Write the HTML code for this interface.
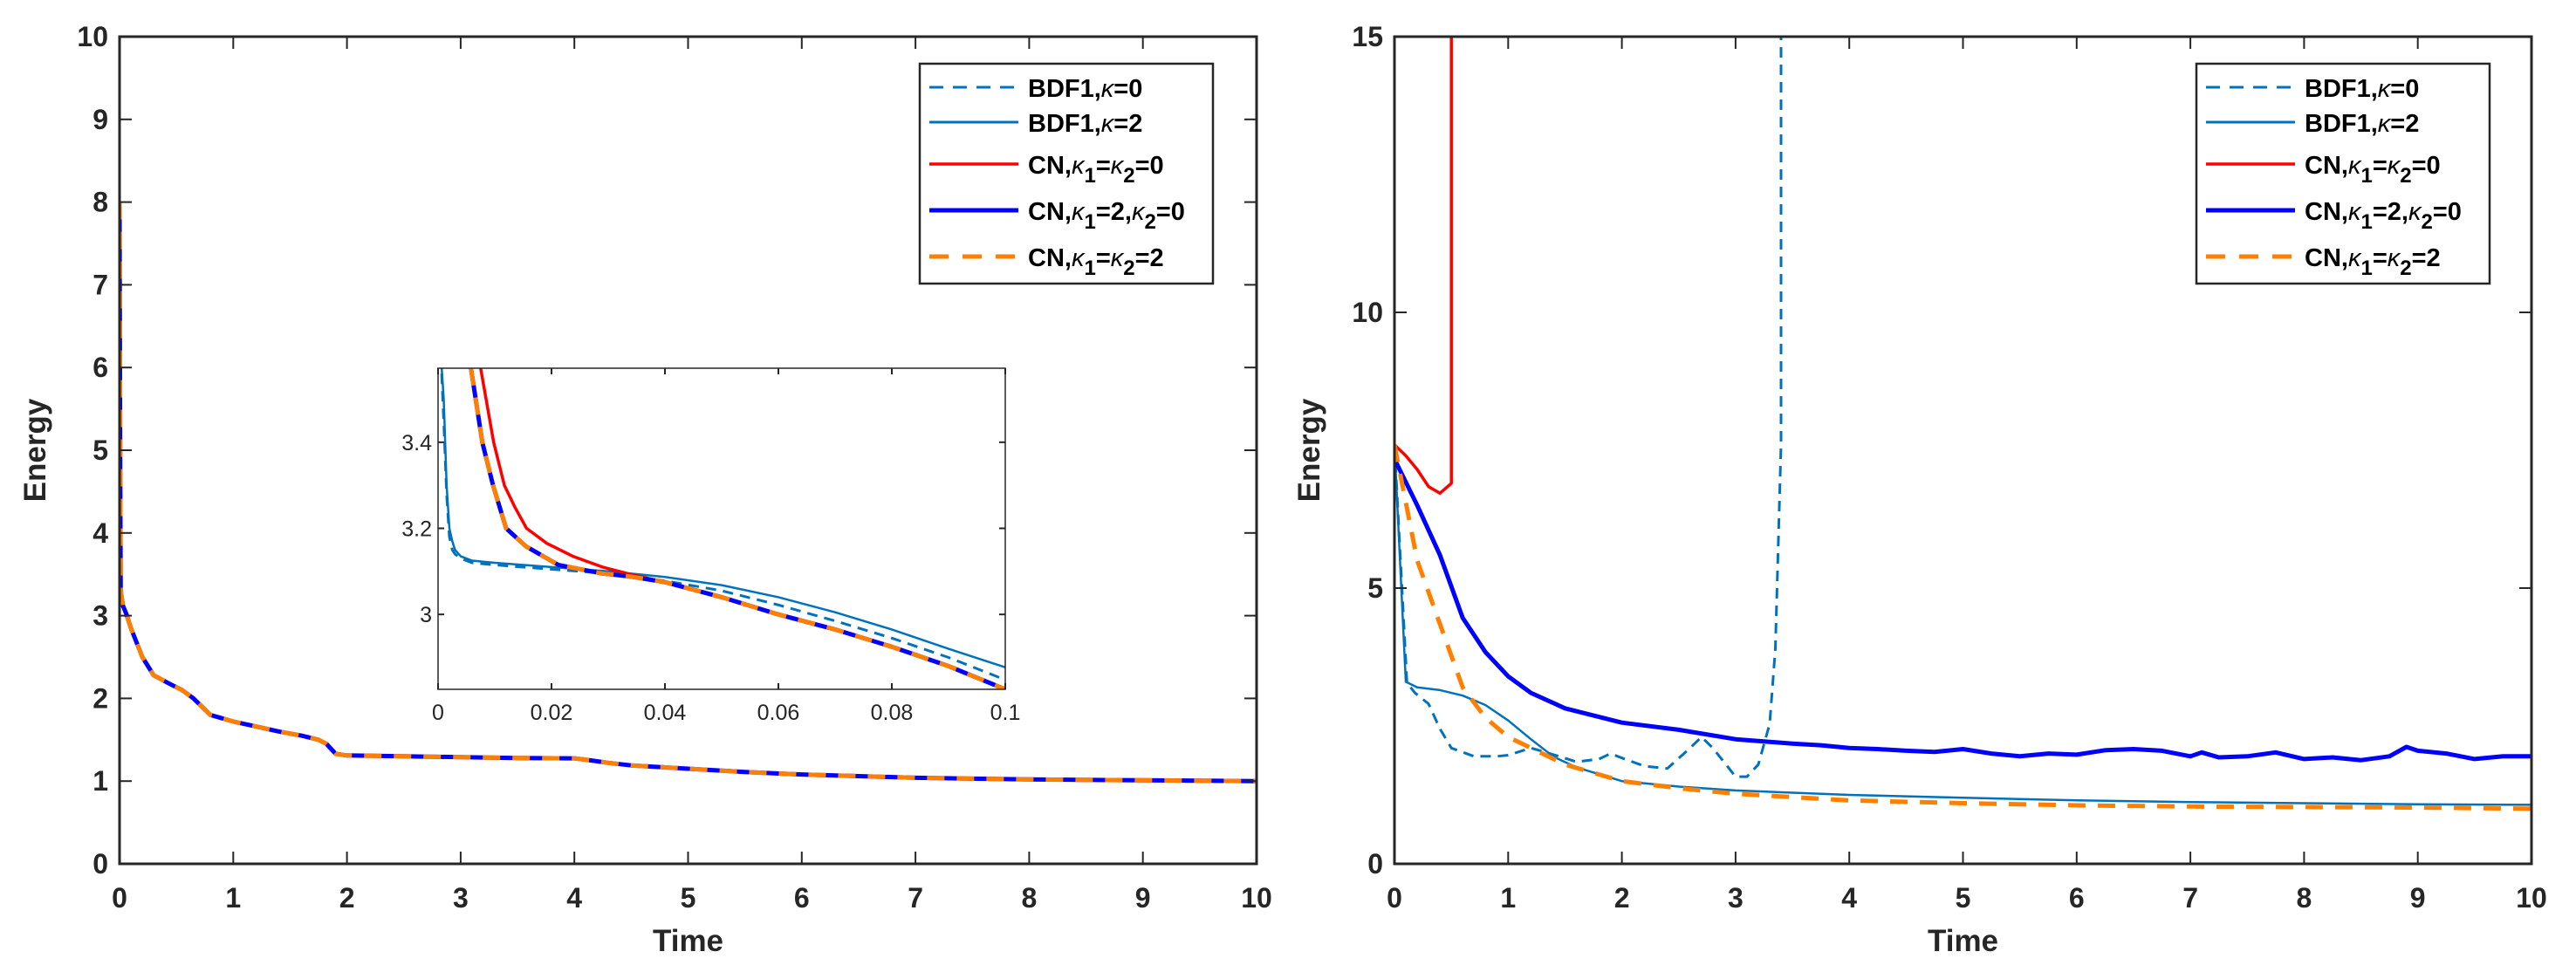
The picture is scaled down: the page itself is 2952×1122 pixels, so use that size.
<!DOCTYPE html>
<html><head><meta charset="utf-8"><style>
html,body{margin:0;padding:0;background:#fff;}
svg{display:block;}
text{font-family:"Liberation Sans",Arial,sans-serif;fill:#262626;}
.tk{font-size:32px;font-weight:bold;}
.ttl{font-size:35px;font-weight:bold;}
.lg{font-size:29px;font-weight:bold;fill:#000;}
.it{font-size:25px;}
</style></head><body>
<svg id="fig" width="2952" height="1122" viewBox="0 0 2952 1122" xmlns="http://www.w3.org/2000/svg"></svg>
<script>
// ---- Left main chart data (all schemes overlap) ----
const leftT = [0,0.005,0.01,0.03,0.06,0.1,0.2,0.3,0.45,0.55,0.65,0.8,1.0,1.2,1.4,1.6,1.75,1.82,1.9,2.0,2.5,3,3.5,4,4.1,4.3,4.5,5,5.5,6,6.5,7,7.5,8,9,10];
const leftE = [8,5,3.3,3.12,3.02,2.85,2.5,2.28,2.17,2.1,2.0,1.8,1.72,1.66,1.6,1.55,1.5,1.45,1.33,1.31,1.3,1.29,1.28,1.275,1.26,1.22,1.19,1.15,1.11,1.08,1.06,1.04,1.03,1.02,1.01,1.0];
const leftXTicks = [0,1,2,3,4,5,6,7,8,9,10];
const leftYTicks = [0,1,2,3,4,5,6,7,8,9,10];
// ---- Inset data ----
const insBdf2T = [0.0005,0.001,0.0015,0.002,0.0025,0.003,0.004,0.006,0.01,0.02,0.03,0.04,0.05,0.06,0.07,0.08,0.09,0.1];
const insBdf2E = [3.6,3.5,3.3,3.2,3.17,3.15,3.135,3.125,3.12,3.11,3.1,3.087,3.068,3.04,3.005,2.965,2.92,2.877];
const insBdf0T = [0.0005,0.001,0.0015,0.002,0.0025,0.003,0.004,0.006,0.01,0.02,0.03,0.04,0.05,0.06,0.07,0.08,0.09,0.1];
const insBdf0E = [3.6,3.45,3.28,3.18,3.15,3.14,3.13,3.12,3.115,3.105,3.095,3.078,3.055,3.022,2.985,2.945,2.9,2.848];
const insRedT = [0.0075,0.0098,0.0117,0.0135,0.0156,0.0192,0.0238,0.029,0.034,0.04,0.05,0.06,0.07,0.08,0.09,0.1];
const insRedE = [3.572,3.4,3.3,3.25,3.2,3.165,3.135,3.11,3.093,3.075,3.04,3.0,2.965,2.925,2.88,2.826];
const insCnT = [0.0058,0.0078,0.0097,0.012,0.0155,0.0212,0.029,0.034,0.04,0.05,0.06,0.07,0.08,0.09,0.1];
const insCnE = [3.572,3.4,3.3,3.2,3.158,3.115,3.095,3.088,3.075,3.04,3.0,2.965,2.925,2.88,2.826];
const insXTicks = [0,0.02,0.04,0.06,0.08,0.1];
const insXLabels = ['0','0.02','0.04','0.06','0.08','0.1'];
const insYTicks = [3,3.2,3.4];
// ---- Right chart data ----
const rRedT = [0,0.1,0.2,0.3,0.4,0.5,0.5];
const rRedE = [7.6,7.4,7.15,6.84,6.72,6.9,15.5];
const rBdf0T = [0,0.11,0.18,0.3,0.4,0.5,0.7,0.9,1.0,1.2,1.4,1.6,1.8,1.9,2.0,2.2,2.4,2.6,2.7,2.8,3.0,3.1,3.2,3.3,3.35,3.4,3.4];
const rBdf0E = [7.6,3.28,3.1,2.9,2.45,2.1,1.95,1.95,1.97,2.1,1.98,1.85,1.9,2.0,1.92,1.77,1.73,2.1,2.3,2.1,1.58,1.58,1.8,2.54,3.9,7.6,15.5];
const rBdf2T = [0,0.1,0.2,0.4,0.6,0.8,1.0,1.2,1.4,1.6,2,2.5,3,4,5,6,7,8,9,10];
const rBdf2E = [7.6,3.3,3.2,3.15,3.05,2.88,2.6,2.26,1.94,1.75,1.5,1.4,1.33,1.25,1.2,1.15,1.12,1.1,1.08,1.07];
const rBlueT = [0,0.2,0.4,0.6,0.8,1.0,1.2,1.5,2,2.5,3,3.25,3.5,3.75,4,4.25,4.5,4.75,5,5.25,5.5,5.75,6,6.25,6.5,6.75,7,7.1,7.25,7.5,7.75,8,8.25,8.5,8.75,8.9,9,9.25,9.5,9.75,10];
const rBlueE = [7.34,6.5,5.6,4.46,3.84,3.4,3.1,2.82,2.56,2.43,2.26,2.22,2.18,2.15,2.1,2.08,2.05,2.03,2.08,2.0,1.95,2.0,1.98,2.06,2.08,2.05,1.95,2.02,1.93,1.95,2.02,1.9,1.93,1.88,1.95,2.12,2.05,2.0,1.9,1.95,1.95];
const rOrT = [0,0.2,0.4,0.6,0.8,1.0,1.2,1.5,2,2.5,3,4,5,6,7,8,9,10];
const rOrE = [7.6,5.5,4.35,3.2,2.65,2.3,2.1,1.8,1.5,1.37,1.27,1.15,1.1,1.06,1.04,1.03,1.02,1.0];
const rXTicks = [0,1,2,3,4,5,6,7,8,9,10];
const rYTicks = [0,5,10,15];
// legend segments: [text, kind] kind: n=normal, k=italic kappa, s=subscript
const legendLabels = [
 [['BDF1,','n'],['κ','k'],['=0','n']],
 [['BDF1,','n'],['κ','k'],['=2','n']],
 [['CN,','n'],['κ','k'],['1','s'],['=','n'],['κ','k'],['2','s'],['=0','n']],
 [['CN,','n'],['κ','k'],['1','s'],['=2,','n'],['κ','k'],['2','s'],['=0','n']],
 [['CN,','n'],['κ','k'],['1','s'],['=','n'],['κ','k'],['2','s'],['=2','n']]
];

const NS='http://www.w3.org/2000/svg';
const fig=document.getElementById('fig');
function mk(tag,parent){const e=document.createElementNS(NS,tag);parent.appendChild(e);return e;}

const styles = {
 bdf0:{c:'#0072BD',w:3,d:'12 8'},
 bdf2:{c:'#0072BD',w:2.5,d:''},
 red:{c:'#FF0000',w:3.5,d:''},
 blue:{c:'#0000FF',w:5,d:''},
 or:{c:'#FF8000',w:5,d:'20 14'}
};

function axes(x0,x1,y0,y1,xmin,xmax,ymin,ymax){
 return {x:v=>x0+(v-xmin)/(xmax-xmin)*(x1-x0), y:v=>y1-(v-ymin)/(ymax-ymin)*(y1-y0)};
}
function series(g,ax,ts,es,st,name,clipId){
 const p=mk('path',g);
 let d='';
 for(let i=0;i<ts.length;i++){d+=(i?'L':'M')+ax.x(ts[i]).toFixed(1)+' '+ax.y(es[i]).toFixed(1);}
 p.setAttribute('d',d);
 p.setAttribute('fill','none');p.setAttribute('stroke',st.c);p.setAttribute('stroke-width',st.w);
 if(st.d)p.setAttribute('stroke-dasharray',st.d);
 p.setAttribute('stroke-linejoin','round');
 p.setAttribute('clip-path','url(#'+clipId+')');
 
 
}
function clip(id,x0,y0,x1,y1){
 let defs=fig.querySelector('defs')||mk('defs',fig);
 const c=mk('clipPath',defs);c.setAttribute('id',id);
 const r=mk('rect',c);r.setAttribute('x',x0);r.setAttribute('y',y0);r.setAttribute('width',x1-x0);r.setAttribute('height',y1-y0);
}
function box(g,x0,y0,x1,y1,w,name){
 const r=mk('rect',g);r.setAttribute('x',x0);r.setAttribute('y',y0);r.setAttribute('width',x1-x0);r.setAttribute('height',y1-y0);
 r.setAttribute('fill','none');r.setAttribute('stroke','#262626');r.setAttribute('stroke-width',w);
 
 
}
function ticks(g,ax,x0,x1,y0,y1,xt,xl,yt,yl,len,cls,xLabY,yLabX,prefix){
 xt.forEach((v,i)=>{
  const X=ax.x(v);
  [[y1,y1-len],[y0,y0+len]].forEach(a=>{const l=mk('line',g);l.setAttribute('x1',X);l.setAttribute('x2',X);l.setAttribute('y1',a[0]);l.setAttribute('y2',a[1]);l.setAttribute('stroke','#262626');l.setAttribute('stroke-width',2);});
  const t=mk('text',g);t.setAttribute('x',X);t.setAttribute('y',xLabY);t.setAttribute('text-anchor','middle');t.setAttribute('class',cls);t.textContent=xl[i];
  
  
 });
 yt.forEach((v,i)=>{
  const Y=ax.y(v);
  [[x0,x0+len],[x1,x1-len]].forEach(a=>{const l=mk('line',g);l.setAttribute('y1',Y);l.setAttribute('y2',Y);l.setAttribute('x1',a[0]);l.setAttribute('x2',a[1]);l.setAttribute('stroke','#262626');l.setAttribute('stroke-width',2);});
  const t=mk('text',g);t.setAttribute('x',yLabX);t.setAttribute('y',Y+(cls==='it'?9:11));t.setAttribute('text-anchor','end');t.setAttribute('class',cls);t.textContent=yl[i];
  
  
 });
}
function titles(g,cx,ylx,cy){
 const t=mk('text',g);t.setAttribute('x',cx);t.setAttribute('y',1090);t.setAttribute('text-anchor','middle');t.setAttribute('class','ttl');t.textContent='Time';
 
 
 const e=mk('text',g);e.setAttribute('transform','translate('+(ylx+12)+','+cy+') rotate(-90)');e.setAttribute('text-anchor','middle');e.setAttribute('class','ttl');e.textContent='Energy';
 
 
}
function legend(g,x0,y0){
 const bg=mk('rect',g);bg.setAttribute('x',x0);bg.setAttribute('y',y0);bg.setAttribute('width',336);bg.setAttribute('height',252);bg.setAttribute('fill','#fff');bg.setAttribute('stroke','#262626');bg.setAttribute('stroke-width',2.5);
 
 
 const keys=['bdf0','bdf2','red','blue','or'];
 const ys=[27,67,115,168,221];
 keys.forEach((k,i)=>{
  const st=styles[k];const Y=y0+ys[i];
  const ent=mk('g',g);
  
  
  const l=mk('line',ent);l.setAttribute('x1',x0+11);l.setAttribute('x2',x0+113);l.setAttribute('y1',Y);l.setAttribute('y2',Y);
  l.setAttribute('stroke',st.c);l.setAttribute('stroke-width',Math.max(st.w,3));if(st.d)l.setAttribute('stroke-dasharray',k==='bdf0'?'16 11':'22 16');
  const t=mk('text',ent);t.setAttribute('x',x0+124);t.setAttribute('y',Y+11);t.setAttribute('class','lg');
  let inSub=false;
  legendLabels[i].forEach(seg=>{
   const s=mk('tspan',t);s.textContent=seg[0];
   if(seg[1]==='s'){s.setAttribute('dy','10');s.setAttribute('font-size','24');inSub=true;}
   else{
    if(inSub){s.setAttribute('dy','-10');inSub=false;}
    if(seg[1]==='k'){s.setAttribute('font-style','italic');s.setAttribute('font-weight','normal');}
   }
  });
 });
}

// ---- Left panel ----
const gL=mk('g',fig);


const LX0=137,LX1=1440,TY0=42,TY1=990;
const axL=axes(LX0,LX1,TY0,TY1,0,10,0,10);
clip('cL',LX0,TY0,LX1,TY1);
series(gL,axL,leftT,leftE,styles.blue,'left-series-cn-k1-2-k2-0','cL');
series(gL,axL,leftT,leftE,styles.or,'left-series-cn-k1-k2-2','cL');
box(gL,LX0,TY0,LX1,TY1,3,'left-plot-frame');
ticks(gL,axL,LX0,LX1,TY0,TY1,leftXTicks,leftXTicks.map(String),leftYTicks,leftYTicks.map(String),14,'tk',1040,124,'left-');
titles(gL,(LX0+LX1)/2,40,(TY0+TY1)/2);

// inset
const gI=mk('g',fig);


const IX0=502,IX1=1152,IY0=422,IY1=790;
const bgI=mk('rect',gI);bgI.setAttribute('x',IX0);bgI.setAttribute('y',IY0);bgI.setAttribute('width',IX1-IX0);bgI.setAttribute('height',IY1-IY0);bgI.setAttribute('fill','#fff');
const axI=axes(IX0,IX1,IY0,IY1,0,0.1,2.826,3.572);
clip('cI',IX0,IY0,IX1,IY1);
series(gI,axI,insBdf0T,insBdf0E,styles.bdf0,'inset-series-bdf1-k0','cI');
series(gI,axI,insBdf2T,insBdf2E,styles.bdf2,'inset-series-bdf1-k2','cI');
series(gI,axI,insRedT,insRedE,styles.red,'inset-series-cn-k0','cI');
series(gI,axI,insCnT,insCnE,styles.blue,'inset-series-cn-k1-2-k2-0','cI');
series(gI,axI,insCnT,insCnE,styles.or,'inset-series-cn-k1-k2-2','cI');
box(gI,IX0,IY0,IX1,IY1,1.5,'inset-frame');
ticks(gI,axI,IX0,IX1,IY0,IY1,insXTicks,insXLabels,insYTicks,insYTicks.map(String),7,'it',825,495,'inset-');

legend(gL,1054,73);

// ---- Right panel ----
const gR=mk('g',fig);


const RX0=1598,RX1=2901;
const axR=axes(RX0,RX1,TY0,TY1,0,10,0,15);
clip('cR',RX0,TY0,RX1,TY1);
series(gR,axR,rBdf0T,rBdf0E,styles.bdf0,'right-series-bdf1-k0','cR');
series(gR,axR,rBdf2T,rBdf2E,styles.bdf2,'right-series-bdf1-k2','cR');
series(gR,axR,rRedT,rRedE,styles.red,'right-series-cn-k0','cR');
series(gR,axR,rBlueT,rBlueE,styles.blue,'right-series-cn-k1-2-k2-0','cR');
series(gR,axR,rOrT,rOrE,styles.or,'right-series-cn-k1-k2-2','cR');
box(gR,RX0,TY0,RX1,TY1,3,'right-plot-frame');
ticks(gR,axR,RX0,RX1,TY0,TY1,rXTicks,rXTicks.map(String),rYTicks,rYTicks.map(String),14,'tk',1040,1585,'right-');
titles(gR,(RX0+RX1)/2,1500,(TY0+TY1)/2);
legend(gR,2517,73);
</script>
</body></html>
